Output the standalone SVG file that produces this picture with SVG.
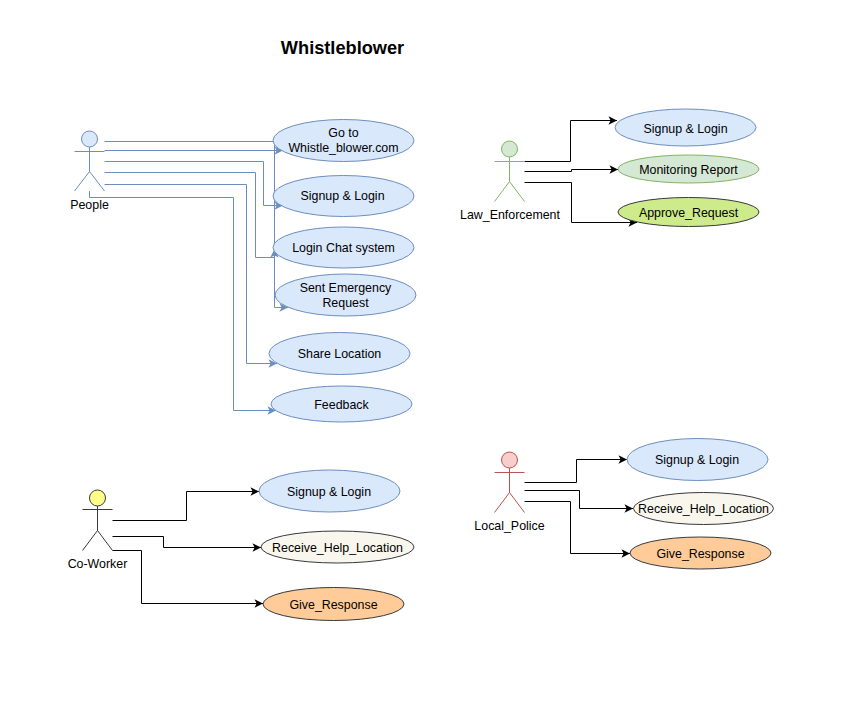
<svg xmlns="http://www.w3.org/2000/svg" width="850" height="711" viewBox="0 0 850 711">
<style>
text{font-family:"Liberation Sans",Arial,sans-serif;font-size:12.4px;fill:#000;text-anchor:middle}
.t{font-size:18.2px;font-weight:bold}
.c{fill:none;stroke:#000;stroke-width:1}
.b{stroke:#6c8ebf}
.blue{fill:#dae8fc;stroke:#6c8ebf}
.green{fill:#d5e8d4;stroke:#82b366}
.red{fill:#f8cecc;stroke:#b85450}
.yellow{fill:#ffff88;stroke:#36393d}
.cream{fill:#f9f7ed;stroke:#36393d}
.orange{fill:#ffcc99;stroke:#36393d}
.lime{fill:#cdeb8b;stroke:#36393d}
.lb{fill:none;stroke:#6c8ebf}.lg{fill:none;stroke:#82b366}.lr{fill:none;stroke:#b85450}.ly{fill:none;stroke:#36393d}
</style>
<defs>
<marker id="ak" markerUnits="userSpaceOnUse" markerWidth="11" markerHeight="10" refX="9" refY="5" orient="auto"><path d="M0.500 0.800L9 5L0.500 9.200L2.600 5Z" fill="#000"/></marker>
<marker id="ab" markerUnits="userSpaceOnUse" markerWidth="11" markerHeight="10" refX="9" refY="5" orient="auto"><path d="M0.500 0.800L9 5L0.500 9.200L2.600 5Z" fill="#6c8ebf"/></marker>
</defs>
<text class="t" x="342.500" y="53.500">Whistleblower</text>
<g id="connectors">
<path class="c b" d="M104.500 141.500H274.500V307.500H288" marker-end="url(#ab)"/>
<path class="c b" d="M104.500 150.500H283" marker-end="url(#ab)"/>
<path class="c b" d="M104.500 161.500H263.500V205.500H283" marker-end="url(#ab)"/>
<path class="c b" d="M104.500 172.500H255.500V257.500H274.500V249" marker-end="url(#ab)"/>
<path class="c b" d="M104.500 184.500H246.500V363.500H277" marker-end="url(#ab)"/>
<path class="c b" d="M89.500 191V197.500H233.500V410.500H276" marker-end="url(#ab)"/>
<path class="c" d="M524.500 161.500H570.500V120.500H617" marker-end="url(#ak)"/>
<path class="c" d="M524.500 171.500H571.500V169.500H618" marker-end="url(#ak)"/>
<path class="c" d="M524.500 182.500H571.500V222.500H637" marker-end="url(#ak)"/>
<path class="c" d="M524.500 482.500H576.500V459.500H627" marker-end="url(#ak)"/>
<path class="c" d="M524.500 490.500H579.500V508.500H633" marker-end="url(#ak)"/>
<path class="c" d="M524.500 501.500H570.500V553.500H630" marker-end="url(#ak)"/>
<path class="c" d="M112.500 520.500H186.500V491.500H259" marker-end="url(#ak)"/>
<path class="c" d="M112.500 536.500H163.500V547.500H261" marker-end="url(#ak)"/>
<path class="c" d="M112.500 550.500H141.500V603.500H263" marker-end="url(#ak)"/>
</g>
<g id="people"><circle class="blue" cx="89.500" cy="139" r="8"/><path class="lb" d="M89.500 147V171.500M74.500 151.500H104.500M74.500 191L89.500 171.500L104.500 191"/><text x="89.500" y="209">People</text></g>
<g id="law"><circle class="green" cx="509.500" cy="149" r="8"/><path class="lg" d="M509.500 157V181.500M494.500 161.500H524.500M494.500 201.500L509.500 181.500L524.500 201.500"/><text x="510" y="219">Law_Enforcement</text></g>
<g id="police"><circle class="red" cx="509.500" cy="460" r="8"/><path class="lr" d="M509.500 468V492.500M494.500 472.500H524.500M494.500 512.500L509.500 492.500L524.500 512.500"/><text x="509.500" y="530">Local_Police</text></g>
<g id="coworker"><circle class="yellow" cx="97.500" cy="498" r="8"/><path class="ly" d="M97.500 506V530.500M82.500 509.500H112.500M82.500 550.500L97.500 530.500L112.500 550.500"/><text x="97.500" y="568">Co-Worker</text></g>
<g id="p1"><ellipse class="blue" cx="343.500" cy="140.500" rx="70.500" ry="21"/><text x="343.500" y="137">Go to</text><text x="343.500" y="152">Whistle_blower.com</text></g>
<g id="p2"><ellipse class="blue" cx="343.500" cy="196" rx="70.500" ry="20.500"/><text x="342.500" y="200">Signup &amp; Login</text></g>
<g id="p3"><ellipse class="blue" cx="343.500" cy="247.500" rx="70.500" ry="20.500"/><text x="343.500" y="252">Login Chat system</text></g>
<g id="p4"><ellipse class="blue" cx="345.500" cy="295" rx="70.500" ry="21"/><text x="345.500" y="292">Sent Emergency</text><text x="345.500" y="307">Request</text></g>
<g id="p5"><ellipse class="blue" cx="339.500" cy="353.500" rx="70.500" ry="21"/><text x="339.500" y="358">Share Location</text></g>
<g id="p6"><ellipse class="blue" cx="341.500" cy="404" rx="70.500" ry="18"/><text x="341.500" y="409">Feedback</text></g>
<g id="l1"><ellipse class="blue" cx="685.500" cy="127.500" rx="70.500" ry="18.500"/><text x="685.500" y="133">Signup &amp; Login</text></g>
<g id="l2"><ellipse class="green" cx="688.500" cy="169" rx="70.500" ry="14"/><text x="688.500" y="174">Monitoring Report</text></g>
<g id="l3"><ellipse class="lime" cx="688.500" cy="212" rx="70.500" ry="14.500"/><text x="688.500" y="217">Approve_Request</text></g>
<g id="lp1"><ellipse class="blue" cx="697.500" cy="459.500" rx="70.500" ry="21"/><text x="697" y="464">Signup &amp; Login</text></g>
<g id="lp2"><ellipse class="cream" cx="703.500" cy="508.500" rx="70" ry="16"/><text x="703.500" y="513">Receive_Help_Location</text></g>
<g id="lp3"><ellipse class="orange" cx="700.500" cy="553" rx="70.500" ry="16"/><text x="700.500" y="558">Give_Response</text></g>
<g id="c1"><ellipse class="blue" cx="329.500" cy="491" rx="70.500" ry="21"/><text x="329" y="496">Signup &amp; Login</text></g>
<g id="c2"><ellipse class="cream" cx="337.500" cy="547" rx="76.500" ry="16"/><text x="337.500" y="552">Receive_Help_Location</text></g>
<g id="c3"><ellipse class="orange" cx="333.500" cy="604" rx="70.500" ry="16.500"/><text x="333.500" y="609">Give_Response</text></g>
</svg>
